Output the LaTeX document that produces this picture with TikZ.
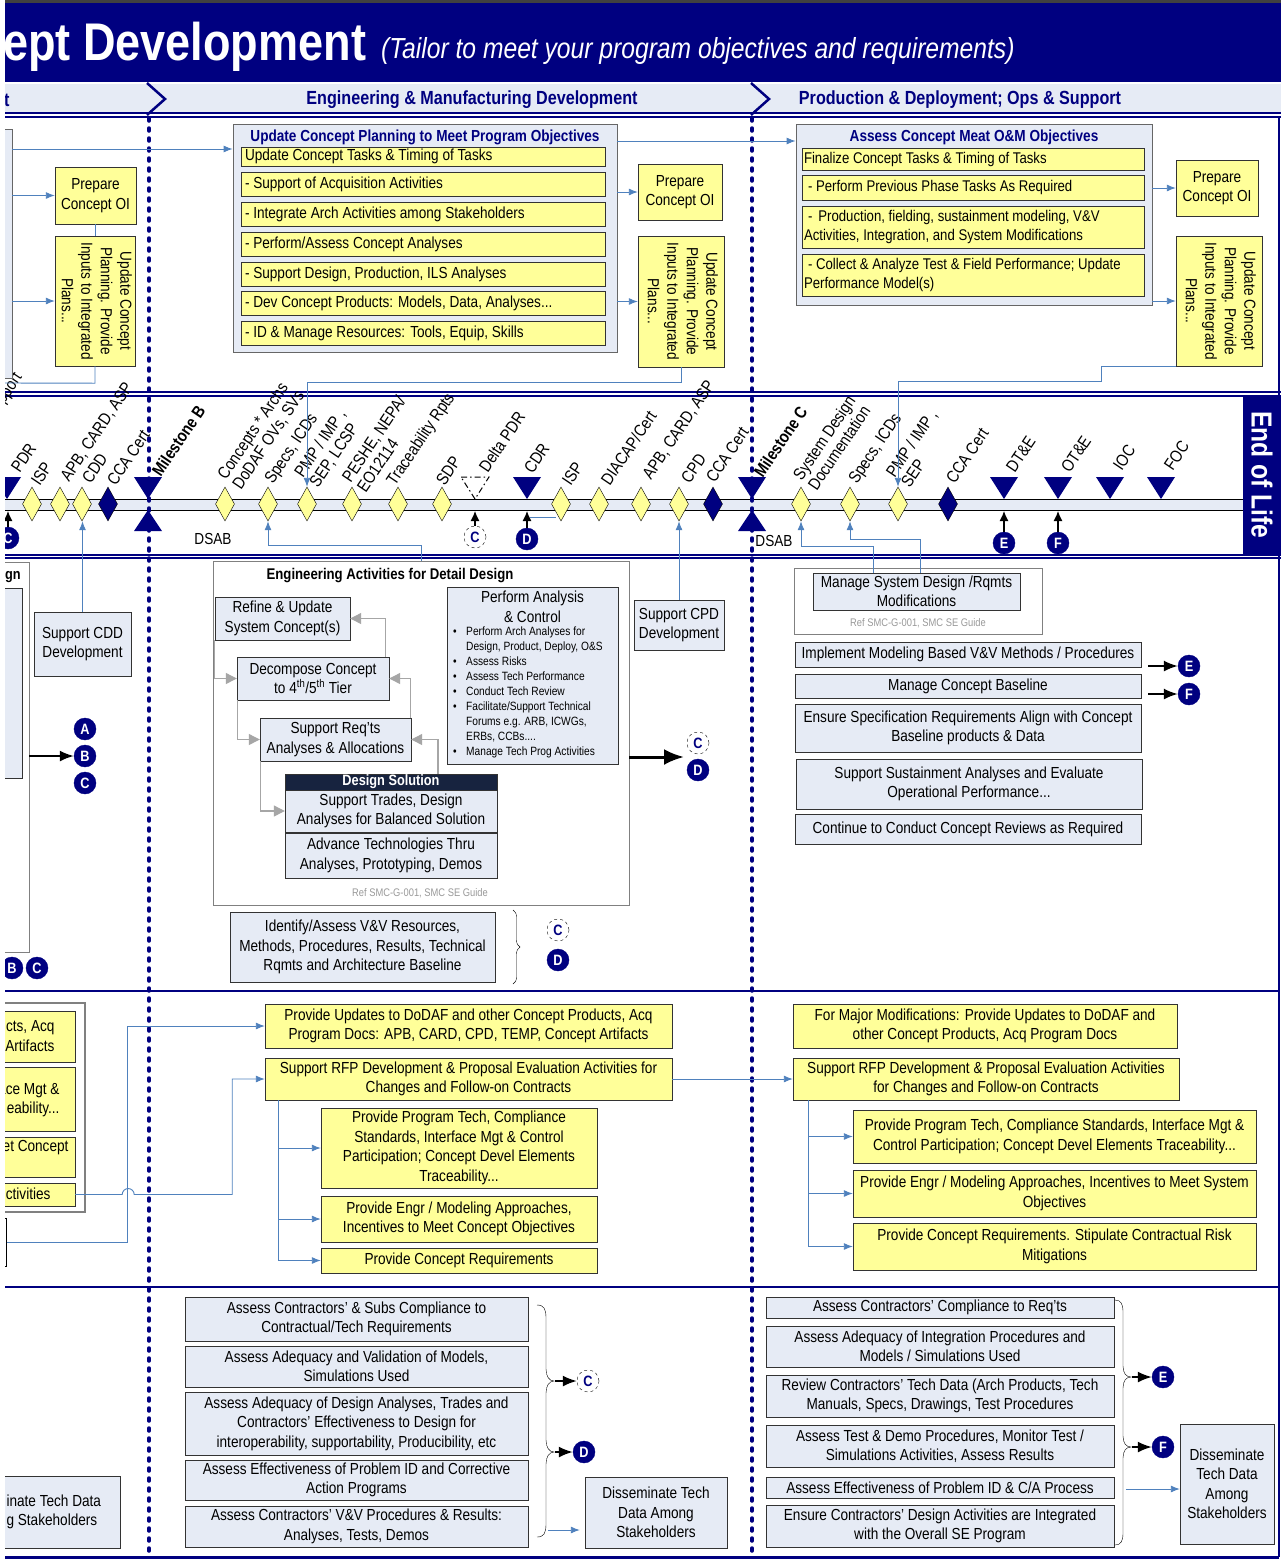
\documentclass[tikz,border=0pt]{standalone}
\usepackage{fontspec}
\setmainfont{Liberation Sans}[FakeStretch=0.85]
\usepackage{xcolor}
\usepackage{graphicx}
\usepackage{tikz}
\usetikzlibrary{shapes}
\usetikzlibrary{shapes.geometric}
\usetikzlibrary{arrows.meta}
\usetikzlibrary{decorations.pathreplacing}
\definecolor{navy}{HTML}{000080}
\definecolor{paleblue}{HTML}{E6EBF5}
\definecolor{paleyellow}{HTML}{FFFF99}
\definecolor{flowblue}{HTML}{4F81BD}
\definecolor{solution}{HTML}{17233F}
\colorlet{framegray}{black!50}
\colorlet{loopgray}{black!35}
\newcommand{\bodyfont}{\fontsize{16}{19.5}\selectfont}
\newcommand{\planText}{\rotatebox{-90}{\begin{tabular}{@{}c@{}}Update Concept\\Planning.  Provide\\Inputs to Integrated\\Plans...\end{tabular}}}
\tikzset{
  % node options
  task/.style={rectangle,draw=black!80,fill=paleblue,align=center,inner sep=1pt,font=\bodyfont},
  taskYellow/.style={task,fill=paleyellow},
  row/.style={taskYellow,align=flush left,inner xsep=4pt},
  rowMid/.style={row,minimum width=364,text width=356},
  rowRight/.style={row,minimum width=342,text width=338,inner xsep=2pt,font=\fontsize{15.5}{19.5}\selectfont},
  group/.style={rectangle,draw=black!60,fill=paleblue,line width=0.8pt},
  zone/.style={rectangle,draw=framegray,fill=white},
  groupTitle/.style={font=\bfseries\fontsize{16}{18}\selectfont,text=navy},
  phaseName/.style={font=\bfseries\fontsize{19}{19}\selectfont,text=navy},
  note/.style={font=\fontsize{11}{13}\selectfont,text=black!40},
  plain/.style={font=\bodyfont,align=center},
  bulletList/.style={font=\fontsize{12}{15}\selectfont,align=left,inner sep=0},
  gate/.style={diamond,draw=black,fill=paleyellow,minimum width=19,minimum height=34,inner sep=0},
  gateCert/.style={gate,fill=navy},
  tick/.style={rotate=56,anchor=south west,inner sep=0,align=left,font=\fontsize{17}{18}\selectfont},
  tickBold/.style={tick,font=\bfseries\fontsize{17}{18}\selectfont},
  tag/.style={circle,draw=navy,fill=navy,text=white,font=\bfseries\fontsize{15}{15}\selectfont,minimum size=22,inner sep=0},
  tagOpen/.style={tag,fill=white,draw=black,dashed,text=navy},
  % path options
  flow/.style={draw=flowblue,line width=0.9pt,-{Latex[length=9pt,width=7pt]}},
  link/.style={draw=flowblue,line width=0.9pt},
  nudge/.style={line width=1.2pt,-{Latex[length=10pt,width=9pt]}},
  push/.style={line width=1.8pt,-{Latex[length=14pt,width=11pt]}},
  pushBig/.style={line width=3pt,-{Latex[length=20pt,width=16pt]}},
  loopback/.style={draw=loopgray,line width=1.2pt,-{Triangle[length=11pt,width=11pt]}},
  phaseLine/.style={navy,line width=3.5pt,dash pattern=on 3pt off 7pt,line cap=round},
  band/.style={navy,line width=1.6pt},
  % pics
  milestone/.pic={\fill[navy] (-14,0) -- (14,0) -- (0,22) -- cycle;},
  milestoneUp/.pic={\fill[navy] (-14,21) -- (14,21) -- (0,0) -- cycle;},
  milestonePlan/.pic={\draw[line width=1pt,dash pattern=on 6pt off 3pt on 1.5pt off 3pt] (-14,0) -- (14,0) -- (0,22) -- cycle;},
}

\begin{document}
\begin{tikzpicture}[x=1pt,y=-1pt]
  \useasboundingbox (0,0) rectangle (1281,1566);
  \clip (5,0) rectangle (1281,1566);

  % title band and phases
  \fill[black!75] (0,0) rectangle (1281,3);
  \fill[navy] (0,3) rectangle (1281,82);
  \node[anchor=base west,inner sep=0,text=white,font=\bfseries\fontsize{53}{53}\selectfont] (title) at (3,60) {ept Development};
  \node[anchor=base west,inner sep=0,text=white,font=\itshape\fontsize{29}{29}\selectfont] (subtitle) at (381,58) {(Tailor to meet your program objectives and requirements)};
  \fill[paleblue] (0,84) rectangle (1281,113);
  \node[phaseName,anchor=west,inner sep=0] (phaseA) at (4,100) {t};
  \node[phaseName] (phaseB) at (472,100) {Engineering \& Manufacturing Development};
  \node[phaseName] (phaseC) at (960,100) {Production \& Deployment; Ops \& Support};
  \draw[band] (0,113) -- (1281,113);
  \draw[band] (0,117) -- (1281,117);
  \draw[navy,line width=2.5pt] (147,83) -- (165,99) -- (147,115);
  \draw[navy,line width=2.5pt] (751,83) -- (769,99) -- (751,115);

  % milestone band
  \draw[band] (0,392) -- (1281,392);
  \draw[band] (0,396) -- (1281,396);
  \draw[band] (0,555) -- (1281,555);
  \draw[band] (0,558) -- (1281,558);
  \fill[paleblue] (0,499) rectangle (1243,510);
  \draw (0,499) -- (1243,499) (0,510) -- (1243,510);
  \coordinate (axisLow) at (0,511);
  \node[fill=navy,text=white,font=\bfseries\fontsize{29}{29}\selectfont,minimum width=38,minimum height=160,inner sep=0] (eol) at (1262,475) {\rotatebox{-90}{End of Life}};

  % section rules
  \draw[navy,line width=2.5pt] (0,991) -- (1279,991);
  \draw[navy,line width=2.5pt] (0,1287) -- (1279,1287);
  \draw[navy,line width=3pt] (0,1557) -- (1279,1557);
  \draw[navy,line width=2pt] (1279,117) -- (1279,1557);
  \draw[phaseLine] (149,118) -- (149,1552);
  \draw[phaseLine] (752,118) -- (752,1552);

  % markers on the axis
  \node[gate] (gISPa) at (32,504) {};
  \node[gate] (gAPBa) at (60,504) {};
  \node[gate] (gCDD) at (82,504) {};
  \node[gateCert] (gCCAa) at (108,504) {};
  \node[gate] (gConcepts) at (225,504) {};
  \node[gate] (gSpecsB) at (268,504) {};
  \node[gate] (gPMPb) at (307,504) {};
  \node[gate] (gPESHE) at (352,504) {};
  \node[gate] (gTrace) at (398,504) {};
  \node[gate] (gSDP) at (442,504) {};
  \node[gate] (gISPb) at (561,504) {};
  \node[gate] (gDIACAP) at (599,504) {};
  \node[gate] (gAPBb) at (641,504) {};
  \node[gate] (gCPD) at (679,504) {};
  \node[gateCert] (gCCAb) at (713,504) {};
  \node[gate] (gSysDoc) at (801,504) {};
  \node[gate] (gSpecsC) at (850,504) {};
  \node[gate] (gPMPc) at (898,504) {};
  \node[gateCert] (gCCAc) at (948,504) {};
  \pic at (7,477) {milestone};
  \pic at (148,477) {milestone};
  \pic at (148,510) {milestoneUp};
  \pic at (475,477) {milestonePlan};
  \pic at (527,477) {milestone};
  \pic at (752,477) {milestone};
  \pic at (752,510) {milestoneUp};
  \pic at (1004,477) {milestone};
  \pic at (1058,477) {milestone};
  \pic at (1110,477) {milestone};
  \pic at (1161,477) {milestone};

  % marker labels
  \node[tick] (lPDR) at (20,474) {PDR};
  \node[tick] (lISPa) at (40,487) {ISP};
  \node[tick] (lAPBa) at (71,484) {APB, CARD, ASP};
  \node[tick] (lCDD) at (91,485) {CDD};
  \node[tick] (lCCAa) at (116,487) {CCA Cert};
  \node[tickBold] (lMsB) at (161,478) {Milestone B};
  \node[tick] (lConcepts) at (243,492) {Concepts * Archs\\DoDAF OVs, SVs};
  \node[tick] (lSpecsB) at (276,487) {Specs, ICDs};
  \node[tick] (lPMPb) at (320,490) {PMP / IMP ,\\SEP, LCSP};
  \node[tick] (lPESHE) at (366,494) {PESHE, NEPA/\\EO12114};
  \node[tick] (lTrace) at (398,489) {Traceability Rpts};
  \node[tick] (lSDP) at (445,487) {SDP};
  \node[tick] (lDelta) at (488,474) {Delta PDR};
  \node[tick] (lCDR) at (533,475) {CDR};
  \node[tick] (lISPb) at (571,487) {ISP};
  \node[tick] (lDIACAP) at (610,487) {DIACAP/Cert};
  \node[tick] (lAPBb) at (653,482) {APB, CARD, ASP};
  \node[tick] (lCPD) at (690,485) {CPD};
  \node[tick] (lCCAb) at (715,484) {CCA Cert};
  \node[tickBold] (lMsC) at (763,479) {Milestone C};
  \node[tick] (lSysDoc) at (817,492) {System Design\\Documentation};
  \node[tick] (lSpecsC) at (860,487) {Specs, ICDs};
  \node[tick] (lPMPc) at (910,489) {PMP / IMP ,\\SEP};
  \node[tick] (lCCAc) at (955,485) {CCA Cert};
  \node[tick] (lDTE) at (1015,474) {DT\&E};
  \node[tick] (lOTE) at (1070,474) {OT\&E};
  \node[tick] (lIOC) at (1122,472) {IOC};
  \node[tick] (lFOC) at (1173,472) {FOC};
  \node[tick] (lSupport) at (7,407) {pport};
  \node[plain] (dsabB) at (213,539) {DSAB};
  \node[plain] (dsabC) at (774,541) {DSAB};

  % reviews feeding the axis
  \node[tag] (tagCa) at (8,538) {C};
  \node[tagOpen] (tagCb) at (475,537) {C};
  \node[tag] (tagDa) at (527,539) {D};
  \node[tag] (tagEa) at (1004,543) {E};
  \node[tag] (tagFa) at (1058,543) {F};
  \draw[nudge] (tagCa) -- (tagCa |- axisLow);
  \draw[nudge] (tagCb) -- (tagCb |- axisLow);
  \draw[nudge] (tagDa) -- (tagDa |- axisLow);
  \draw[nudge] (tagEa) -- (tagEa |- axisLow);
  \draw[nudge] (tagFa) -- (tagFa |- axisLow);
  \draw[link] ([xshift=3]tagDa.north |- 0,517) -- (gISPb.south west |- 0,517);

  % concept planning
  \node[group,minimum width=20,minimum height=249] (prevPlan) at (2,253.5) {};
  \node[taskYellow,minimum width=81,minimum height=57] (prepL) at (95.5,195.5) {Prepare\\Concept OI};
  \node[taskYellow,minimum width=80,minimum height=130] (updL) at (95,301) {\planText};
  \node[group,minimum width=384,minimum height=228] (planMid) at (425,238) {};
  \node[groupTitle] (planMidT) at (425,137) {Update Concept Planning to Meet Program Objectives};
  \node[rowMid,minimum height=19] (pm1) at (423,156.5) {Update Concept Tasks \& Timing of Tasks};
  \node[rowMid,minimum height=24] (pm2) at (423,184) {- Support of Acquisition Activities};
  \node[rowMid,minimum height=24] (pm3) at (423,214) {- Integrate Arch Activities among Stakeholders};
  \node[rowMid,minimum height=24] (pm4) at (423,244) {- Perform/Assess Concept Analyses};
  \node[rowMid,minimum height=24] (pm5) at (423,274) {- Support Design, Production, ILS Analyses};
  \node[rowMid,minimum height=24] (pm6) at (423,303) {- Dev Concept Products: Models, Data, Analyses...};
  \node[rowMid,minimum height=24] (pm7) at (423,333) {- ID \& Manage Resources: Tools, Equip, Skills};
  \node[taskYellow,minimum width=84,minimum height=56] (prepM) at (680,192) {Prepare\\Concept OI};
  \node[taskYellow,minimum width=86,minimum height=131] (updM) at (681,301.5) {\planText};
  \node[group,minimum width=356,minimum height=181] (planR) at (974,214.5) {};
  \node[groupTitle] (planRT) at (974,137) {Assess Concept Meat O\&M Objectives};
  \node[rowRight,minimum height=22] (pr1) at (973,159) {Finalize Concept Tasks \& Timing of Tasks};
  \node[rowRight,minimum height=25] (pr2) at (973,187.5) {\hspace*{4pt}- Perform Previous Phase Tasks As Required};
  \node[rowRight,minimum height=42] (pr3) at (973,227) {\hspace*{4pt}-\hspace{6pt}Production, fielding, sustainment modeling, V\&V\\Activities, Integration, and System Modifications};
  \node[rowRight,minimum height=42] (pr4) at (973,275) {\hspace*{4pt}- Collect \& Analyze Test \& Field Performance; Update\\Performance Model(s)};
  \node[taskYellow,minimum width=82,minimum height=56] (prepR) at (1217,188) {Prepare\\Concept OI};
  \node[taskYellow,minimum width=86,minimum height=130] (updR) at (1219,301) {\planText};
  \coordinate (toBandL) at (0,383);

  \draw[flow] (prevPlan.east |- 0,149) -- (planMid.west |- 0,149);
  \draw[flow] (prevPlan.east |- prepL) -- (prepL.west);
  \draw[flow] (prevPlan.east |- updL) -- (updL.west);
  \draw[link] (prepL.south) -- (prepL.south |- updL.north);
  \draw[link] (updL.south) -- ++(0,17) -- (toBandL);
  \draw[flow] (planMid.east |- prepM) -- (prepM.west);
  \draw[flow] (planMid.east |- updM) -- (updM.west);
  \draw[flow] (planMid.east |- 0,141) -- (planR.west |- 0,141);
  \draw[flow] (planR.east |- prepR) -- (prepR.west);
  \draw[flow] (planR.east |- updR) -- (updR.west);
  \draw[flow] (updM.south) -- ++(0,15) -| (gPMPb.north);
  \draw[flow] (updR.south west) -- ++(-74,0) -- ++(0,15) -| (gPMPc.north);

  % detail design
  \node[zone,minimum width=40,minimum height=390] (designL) at (9,757) {};
  \node[task,minimum width=32,minimum height=190] (designLin) at (6,683) {};
  \node[anchor=west,inner sep=0,font=\bfseries\fontsize{15}{15}\selectfont] (designLT) at (5,577) {gn};
  \node[tag] (tagA) at (85,729) {A};
  \node[tag] (tagB) at (85,756) {B};
  \node[tag] (tagC) at (85,783) {C};
  \node[tag] (tagBl) at (12,968) {B};
  \node[tag] (tagCl) at (37,968) {C};
  \draw[push] (designL.east |- tagB) -- (tagB);
  \node[task,minimum width=97,minimum height=64] (suppCDD) at (82.5,644) {Support CDD\\Development};
  \draw[flow] (suppCDD.north) -- (suppCDD.north |- gCDD.south);

  \node[zone,minimum width=416,minimum height=344] (engFrame) at (421,733) {};
  \node[font=\bfseries\fontsize{15.5}{17}\selectfont] (engT) at (390,576) {Engineering Activities for Detail Design};
  \node[task,minimum width=135,minimum height=43] (refine) at (282.5,618.5) {Refine \& Update\\System Concept(s)};
  \node[task,minimum width=152,minimum height=43] (decomp) at (313,678.5) {Decompose Concept\\to 4\textsuperscript{th}/5\textsuperscript{th} Tier};
  \node[task,minimum width=151,minimum height=43] (suppReq) at (335.5,739.5) {Support Req’ts\\Analyses \& Allocations};
  \node[task,fill=solution,text=white,font=\bfseries\fontsize{15}{15}\selectfont,minimum width=212,minimum height=16,inner sep=0] (dsHead) at (391,782) {Design Solution};
  \node[task,minimum width=212,minimum height=42] (dsTrades) at (391,811) {Support Trades, Design\\Analyses for Balanced Solution};
  \node[task,minimum width=212,minimum height=45] (dsTech) at (391,855.5) {Advance Technologies Thru\\Analyses, Prototyping, Demos};
  \node[task,minimum width=171,minimum height=177] (perfAC) at (532.5,675.5) {};
  \node[plain] (perfACt) at (532.5,607) {Perform Analysis\\\& Control};
  \node[bulletList,anchor=north west] (perfACl) at (453,627) {%
    \makebox[13pt][l]{\textbullet}Perform Arch Analyses for\\
    \hspace*{13pt}Design, Product, Deploy, O\&S\\
    \makebox[13pt][l]{\textbullet}Assess Risks\\
    \makebox[13pt][l]{\textbullet}Assess Tech Performance\\
    \makebox[13pt][l]{\textbullet}Conduct Tech Review\\
    \makebox[13pt][l]{\textbullet}Facilitate/Support Technical\\
    \hspace*{13pt}Forums e.g. ARB, ICWGs,\\
    \hspace*{13pt}ERBs, CCBs....\\
    \makebox[13pt][l]{\textbullet}Manage Tech Prog Activities};
  \node[note] (engRef) at (420,893) {Ref SMC-G-001, SMC SE Guide};
  \draw[loopback] (refine.south west) |- (decomp.west);
  \draw[loopback] ([xshift=1]decomp.south west) |- (suppReq.west);
  \draw[loopback] ([xshift=1]suppReq.south west) |- (dsTrades.west);
  \draw[loopback] ([xshift=47]dsHead.north) |- (suppReq.east);
  \draw[loopback] ([xshift=-1]suppReq.north east) |- (decomp.east);
  \draw[loopback] ([xshift=-4]decomp.north east) |- (refine.east);
  \draw[flow] (engFrame.north) -- ++(0,-15) -| (gSpecsB.south);
  \coordinate (toCD) at (684,757);
  \draw[pushBig] (engFrame.east |- toCD) -- (toCD);
  \node[tagOpen] (tagCe) at (698,743) {C};
  \node[tag] (tagDe) at (698,770) {D};
  \node[task,minimum width=90,minimum height=50] (suppCPD) at (679,625) {Support CPD\\Development};
  \draw[flow] (suppCPD.north) -- (suppCPD.north |- gCPD.south);
  \node[task,minimum width=265,minimum height=70] (vvRes) at (362.5,947) {Identify/Assess V\&V Resources,\\Methods, Procedures, Results, Technical\\Rqmts and Architecture Baseline};
  \draw[decorate,decoration={brace,amplitude=7pt}] (513,910) -- (513,984);
  \node[tagOpen] (tagCv) at (558,930) {C};
  \node[tag] (tagDv) at (558,960) {D};

  % production baseline
  \node[zone,minimum width=248,minimum height=66] (msdFrame) at (918,601) {};
  \node[task,minimum width=207,minimum height=37] (msd) at (916.5,591.5) {Manage System Design /Rqmts\\Modifications};
  \node[note] (msdRef) at (918,623) {Ref SMC-G-001, SMC SE Guide};
  \draw[flow] ([xshift=-43.5]msd.north) |- ([yshift=-25]gSysDoc.south) -- (gSysDoc.south);
  \draw[flow] ([xshift=3.5]msd.north) |- ([yshift=-18]gSpecsC.south) -- (gSpecsC.south);
  \node[task,minimum width=346,minimum height=25] (vvImpl) at (968,654.5) {Implement Modeling Based V\&V Methods / Procedures};
  \node[task,minimum width=346,minimum height=24] (mgBase) at (968,686) {Manage Concept Baseline};
  \node[task,minimum width=346,minimum height=48] (ensure) at (968,728) {Ensure Specification Requirements Align with Concept\\Baseline products \& Data};
  \node[task,minimum width=346,minimum height=50] (sustain) at (969,784) {Support Sustainment Analyses and Evaluate\\Operational Performance...};
  \node[task,minimum width=346,minimum height=30] (contRev) at (968,829) {Continue to Conduct Concept Reviews as Required};
  \node[tag] (tagEm) at (1189,666) {E};
  \node[tag] (tagFm) at (1189,694) {F};
  \draw[push] (tagEm -| vvImpl.east) ++(7,0) -- (tagEm);
  \draw[push] (tagFm -| mgBase.east) ++(7,0) -- (tagFm);

  % acquisition documents
  \node[zone,line width=1.2pt,minimum width=95,minimum height=209] (acqL) at (37.5,1107.5) {};
  \node[taskYellow,minimum width=85,minimum height=51] (accL1) at (32.5,1036.5) {};
  \node[taskYellow,minimum width=85,minimum height=64] (accL2) at (32.5,1099) {};
  \node[taskYellow,minimum width=85,minimum height=40] (accL3) at (32.5,1157) {};
  \node[taskYellow,minimum width=85,minimum height=23] (accL4) at (32.5,1194.5) {};
  \node[plain,align=right,anchor=east] (accL1t) at (58,1036) {cts, Acq\\Artifacts};
  \node[plain,align=right,anchor=east] (accL2t) at (63,1100) {ace Mgt \&\\eability...};
  \node[plain,anchor=east] (accL3t) at (72,1148) {et Concept};
  \node[plain,anchor=east] (accL4t) at (54,1194) {ctivities};
  \node[zone,draw=black,minimum width=17,minimum height=48] (stubL) at (-2,1242) {};
  \node[taskYellow,minimum width=407,minimum height=44] (updDoc) at (468.5,1026) {Provide Updates to DoDAF and other Concept Products, Acq\\Program Docs: APB, CARD, CPD, TEMP, Concept Artifacts};
  \node[taskYellow,minimum width=407,minimum height=42] (rfpL) at (468.5,1079) {Support RFP Development \& Proposal Evaluation Activities for\\Changes and Follow-on Contracts};
  \node[taskYellow,minimum width=276,minimum height=80] (provTech) at (459,1148) {Provide Program Tech, Compliance\\Standards, Interface Mgt \& Control\\Participation;  Concept Devel Elements\\Traceability...};
  \node[taskYellow,minimum width=276,minimum height=46] (provEngr) at (459,1219) {Provide Engr / Modeling Approaches,\\Incentives to Meet Concept Objectives};
  \node[taskYellow,minimum width=276,minimum height=25] (provReq) at (459,1260.5) {Provide Concept Requirements};
  \draw[flow] (stubL.east) -| ([xshift=-137]updDoc.west) -- (updDoc.west);
  \draw[flow] (accL4.east) -- ++(47,0) arc[start angle=180,end angle=360,radius=6] -- ++(98,0) |- (rfpL.west);
  \draw[flow] ([xshift=-190.5]rfpL.south) |- (provTech.west);
  \draw[flow] ([xshift=-190.5]rfpL.south) |- (provEngr.west);
  \draw[flow] ([xshift=-190.5]rfpL.south) |- (provReq.west);
  \node[taskYellow,minimum width=384,minimum height=44] (updDocR) at (985,1026) {For Major Modifications: Provide Updates to DoDAF and\\other Concept Products, Acq Program Docs};
  \node[taskYellow,minimum width=386,minimum height=42] (rfpR) at (986,1079) {Support RFP Development \& Proposal Evaluation Activities\\for Changes and Follow-on Contracts};
  \node[taskYellow,minimum width=403,minimum height=53] (provTechR) at (1054.5,1136.5) {Provide Program Tech, Compliance Standards, Interface Mgt \&\\Control Participation;  Concept Devel Elements Traceability...};
  \node[taskYellow,minimum width=403,minimum height=47] (provEngrR) at (1054.5,1193.5) {Provide Engr / Modeling Approaches, Incentives to Meet System\\Objectives};
  \node[taskYellow,minimum width=403,minimum height=47] (provReqR) at (1054.5,1246.5) {Provide Concept Requirements. Stipulate Contractual Risk\\Mitigations};
  \draw[flow] (rfpL.east) -- (rfpR.west);
  \draw[flow] ([xshift=-178]rfpR.south) |- (provTechR.west);
  \draw[flow] ([xshift=-178]rfpR.south) |- (provEngrR.west);
  \draw[flow] ([xshift=-178]rfpR.south) |- (provReqR.west);

  % contractor oversight
  \node[task,minimum width=125,minimum height=72] (dissL) at (57.5,1512) {};
  \node[plain,align=left,anchor=west] (dissLt) at (3,1512) {inate Tech Data\\g Stakeholders};
  \node[task,minimum width=343,minimum height=44] (ac1) at (356.5,1319) {Assess Contractors’ \& Subs Compliance to\\Contractual/Tech Requirements};
  \node[task,minimum width=343,minimum height=41] (ac2) at (356.5,1366.5) {Assess  Adequacy and Validation of Models,\\Simulations Used};
  \node[task,minimum width=343,minimum height=63] (ac3) at (356.5,1423.5) {Assess Adequacy of Design Analyses, Trades and\\Contractors’ Effectiveness to Design for\\interoperability, supportability, Producibility, etc};
  \node[task,minimum width=343,minimum height=40] (ac4) at (356.5,1480) {Assess Effectiveness of Problem ID and Corrective\\Action Programs};
  \node[task,minimum width=343,minimum height=41] (ac5) at (356.5,1526.5) {Assess Contractors’ V\&V Procedures \& Results:\\Analyses, Tests, Demos};
  \draw (537,1305) .. controls (544,1305) and (546,1309) .. (546,1318) -- (546,1369) .. controls (546,1376) and (549,1381) .. (554,1381) .. controls (549,1381) and (546,1386) .. (546,1393) -- (546,1440) .. controls (546,1447) and (549,1452) .. (554,1452) .. controls (549,1452) and (546,1457) .. (546,1464) -- (546,1524) .. controls (546,1533) and (544,1537) .. (537,1537);
  \coordinate (cuspCs) at (555,1381);
  \coordinate (cuspDs) at (555,1452);
  \node[tagOpen] (tagCs) at (588,1381) {C};
  \node[tag] (tagDs) at (584,1452) {D};
  \draw[push] (cuspCs) -- (tagCs);
  \draw[push] (cuspDs) -- (tagDs);
  \node[task,minimum width=142,minimum height=71] (dissM) at (656,1512.5) {Disseminate Tech\\Data Among\\Stakeholders};
  \draw[flow] ([xshift=-37,yshift=-17.5]dissM.west) -- ([xshift=-5,yshift=-17.5]dissM.west);

  \node[task,minimum width=348,minimum height=21] (rc1) at (940,1307.5) {Assess Contractors’ Compliance to Req’ts};
  \node[task,minimum width=348,minimum height=41] (rc2) at (940,1346.5) {Assess Adequacy of Integration Procedures and\\Models / Simulations Used};
  \node[task,minimum width=348,minimum height=42] (rc3) at (940,1396) {Review Contractors’ Tech Data (Arch Products, Tech\\Manuals, Specs, Drawings, Test Procedures};
  \node[task,minimum width=348,minimum height=42] (rc4) at (940,1446) {Assess Test \& Demo Procedures, Monitor Test /\\Simulations Activities, Assess Results};
  \node[task,minimum width=348,minimum height=21] (rc5) at (940,1487.5) {Assess Effectiveness of Problem ID \& C/A Process};
  \node[task,minimum width=348,minimum height=42] (rc6) at (940,1526) {Ensure Contractors’ Design Activities are Integrated\\with the Overall SE Program};
  \draw (1115,1300) .. controls (1121,1300) and (1123,1304) .. (1123,1312) -- (1123,1366) .. controls (1123,1373) and (1126,1377) .. (1131,1377) .. controls (1126,1377) and (1123,1381) .. (1123,1388) -- (1123,1436) .. controls (1123,1443) and (1126,1447) .. (1131,1447) .. controls (1126,1447) and (1123,1451) .. (1123,1458) -- (1123,1533) .. controls (1123,1541) and (1121,1545) .. (1115,1545);
  \coordinate (cuspEs) at (1132,1377);
  \coordinate (cuspFs) at (1132,1447);
  \node[tag] (tagEs) at (1163,1377) {E};
  \node[tag] (tagFs) at (1163,1447) {F};
  \draw[push] (cuspEs) -- (tagEs);
  \draw[push] (cuspFs) -- (tagFs);
  \node[task,minimum width=94,minimum height=120] (dissR) at (1227,1484) {Disseminate\\Tech Data\\Among\\Stakeholders};
  \draw[flow] ([xshift=-54,yshift=-5]dissR.west) -- ([yshift=-5]dissR.west);
\end{tikzpicture}
\end{document}
